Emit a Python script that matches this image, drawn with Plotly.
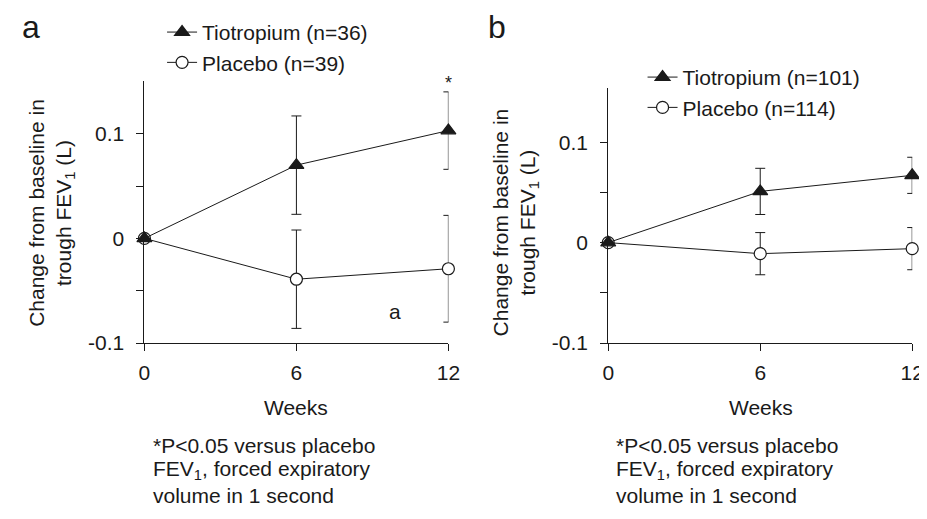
import plotly.graph_objects as go

weeks = [0, 6, 12]
x_ticks = [0, 6, 12]
y_tickvals = [-0.1, -0.05, 0, 0.05, 0.1]
y_ticktext = ["-0.1", "", "0", "", "0.1"]

# Panel a
tio_a = [0.0, 0.070, 0.103]
tio_a_err = [0.0, 0.047, 0.037]
pla_a = [0.0, -0.039, -0.029]
pla_a_err = [0.0, 0.047, 0.051]

# Panel b
tio_b = [0.0, 0.051, 0.067]
tio_b_err = [0.0, 0.023, 0.018]
pla_b = [0.0, -0.011, -0.006]
pla_b_err = [0.0, 0.021, 0.021]

W, H = 927, 519
FONT = "Liberation Sans, Arial, Helvetica, sans-serif"
BLACK = "#1a1a1a"
FS = 21


def px_x(p):
    return p / W


def px_y(p):
    return 1 - p / H


fig = go.Figure()


def add_series(x, y, err, name, symbol, fill, xa, ya, legend):
    fig.add_trace(go.Scatter(
        x=x, y=y, name=name, mode="lines+markers",
        line=dict(color=BLACK, width=1),
        marker=dict(symbol=symbol, size=13 if symbol == "triangle-up" else 12,
                    color=fill, line=dict(color=BLACK, width=1.2)),
        error_y=dict(type="data", array=err, visible=True, color=BLACK,
                     thickness=1, width=5),
        xaxis=xa, yaxis=ya, legend=legend, cliponaxis=False,
    ))


add_series(weeks, pla_a, pla_a_err, "Placebo (n=39)", "circle", "white", "x", "y", "legend")
add_series(weeks, tio_a, tio_a_err, "Tiotropium (n=36)", "triangle-up", BLACK, "x", "y", "legend")
add_series(weeks, pla_b, pla_b_err, "Placebo (n=114)", "circle", "white", "x2", "y2", "legend2")
add_series(weeks, tio_b, tio_b_err, "Tiotropium (n=101)", "triangle-up", BLACK, "x2", "y2", "legend2")

axis_common = dict(showline=True, linecolor=BLACK, linewidth=1, ticks="outside",
                   ticklen=7, tickcolor=BLACK, showgrid=False, zeroline=False,
                   tickfont=dict(family=FONT, size=FS, color=BLACK))
x_common = dict(range=[0, 12], tickvals=x_ticks, ticklabelstandoff=4, **axis_common)
y_common = dict(tickvals=y_tickvals, ticktext=y_ticktext, ticklabelstandoff=8, **axis_common)

fig.update_layout(
    width=W, height=H, margin=dict(l=0, r=0, t=0, b=0),
    paper_bgcolor="white", plot_bgcolor="white",
    font=dict(family=FONT, size=FS, color=BLACK),
    xaxis=dict(domain=[px_x(133), px_x(443)], anchor="y", **x_common),
    yaxis=dict(domain=[px_y(342.3), px_y(75)], range=[-0.1, 0.15], anchor="x", **y_common),
    xaxis2=dict(domain=[px_x(606), px_x(916)], anchor="y2", **x_common),
    yaxis2=dict(domain=[px_y(342.3), px_y(81.7)], range=[-0.1, 0.154], anchor="x2", **y_common),
    legend=dict(x=px_x(151), y=px_y(4), xanchor="left", yanchor="top",
                traceorder="reversed", itemwidth=30, bgcolor="rgba(0,0,0,0)",
                font=dict(family=FONT, size=FS, color=BLACK)),
    legend2=dict(x=px_x(641), y=px_y(50), xanchor="left", yanchor="top",
                 traceorder="reversed", itemwidth=30, bgcolor="rgba(0,0,0,0)",
                 font=dict(family=FONT, size=FS, color=BLACK)),
    showlegend=True,
)


def paper_text(text, x, y, size=FS, angle=0, xanchor="center"):
    return dict(text=text, x=px_x(x), y=px_y(y), xref="paper", yref="paper",
                xanchor=xanchor, yanchor="middle", textangle=angle,
                showarrow=False, font=dict(size=size, family=FONT, color=BLACK))


ann = []
ann.append(paper_text("a", 17.5, 19, size=32))
ann.append(paper_text("b", 492.5, 19, size=32))
ytitle = "Change from baseline in<br>trough FEV<sub>1</sub> (L)"
ann.append(paper_text(ytitle, 38, 209, angle=-90))
ann.append(paper_text(ytitle, 512, 219, angle=-90))
ann.append(paper_text("Weeks", 288, 408))
ann.append(paper_text("Weeks", 762, 408))
ann.append(dict(text="*", x=12, y=tio_a[2] + tio_a_err[2], xref="x", yref="y",
                yanchor="bottom", xanchor="center", yshift=-3, showarrow=False,
                font=dict(size=18, family=FONT, color=BLACK)))
ann.append(dict(text="a", x=9.9, y=-0.07, xref="x", yref="y", showarrow=False,
                xanchor="center", yanchor="middle",
                font=dict(size=FS, family=FONT, color=BLACK)))
foot = ["*P<0.05 versus placebo", "FEV<sub>1</sub>, forced expiratory", "volume in 1 second"]
for x0 in (140, 612):
    for i, line in enumerate(foot):
        ann.append(paper_text(line, x0, 447 + 25.5 * i, xanchor="left"))

fig.update_layout(annotations=ann)
fig.write_html("out.html")
